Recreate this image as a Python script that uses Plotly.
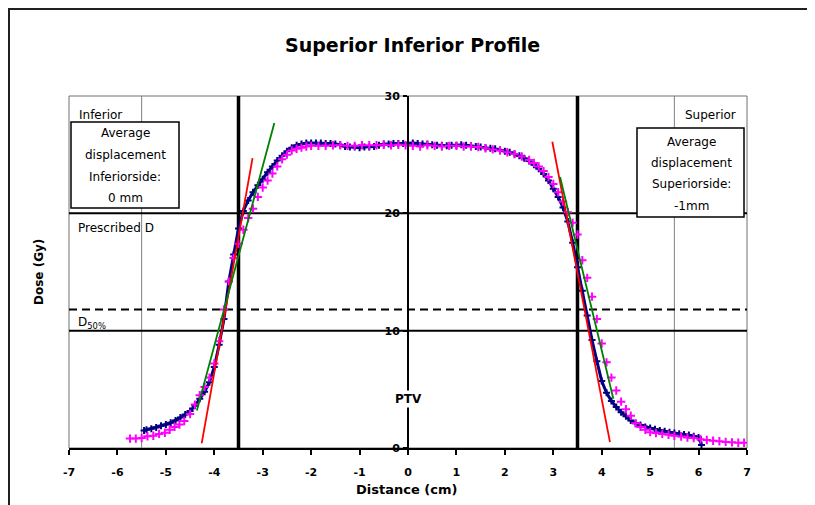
import plotly.graph_objects as go

# ---------------- data ----------------
navy_x = [-5.45, -5.4, -5.3, -5.2, -5.1, -5.0, -4.9, -4.8, -4.7, -4.6, -4.5, -4.4, -4.3, -4.2,
          -4.1, -4.0, -3.9, -3.8, -3.7, -3.6, -3.5, -3.4, -3.3, -3.2, -3.1, -3.0, -2.9, -2.8,
          -2.7, -2.6, -2.5, -2.4, -2.3, -2.2, -2.1, -2.0, -1.9, -1.8, -1.7, -1.6, -1.5, -1.4,
          -1.3, -1.2, -1.1, -1.0, -0.9, -0.8, -0.7, -0.6, -0.5, -0.4, -0.3, -0.2, -0.1, 0.0,
          0.1, 0.2, 0.3, 0.4, 0.5, 0.6, 0.7, 0.8, 0.9, 1.0, 1.1, 1.2, 1.3, 1.4, 1.5, 1.6,
          1.7, 1.8, 1.9, 2.0, 2.1, 2.2, 2.3, 2.4, 2.5, 2.6, 2.7, 2.8, 2.9, 3.0, 3.1, 3.2,
          3.3, 3.4, 3.5, 3.6, 3.7, 3.8, 3.9, 4.0, 4.1, 4.2, 4.3, 4.4, 4.5, 4.6, 4.7, 4.8,
          4.9, 5.0, 5.1, 5.2, 5.3, 5.4, 5.5, 5.6, 5.7, 5.8, 5.9, 6.0, 6.06]
navy_y = [1.5, 1.55, 1.65, 1.75, 1.9, 2.0, 2.15, 2.35, 2.6, 2.85, 3.15, 3.6, 4.2, 4.8,
          5.6, 6.9, 8.8, 11.0, 14.2, 16.5, 18.7, 20.2, 21.1, 21.8, 22.4, 22.9, 23.5, 24.0,
          24.5, 24.9, 25.3, 25.6, 25.8, 25.9, 26.0, 26.0, 26.0, 26.0, 25.95, 25.95, 25.9, 25.85,
          25.7, 25.65, 25.65, 25.6, 25.65, 25.65, 25.7, 25.8, 25.9, 25.9, 25.95, 25.95, 25.95, 26.0,
          26.0, 25.95, 25.9, 25.9, 25.85, 25.8, 25.8, 25.75, 25.8, 25.8, 25.85, 25.8, 25.75, 25.7, 25.65, 25.6,
          25.55, 25.5, 25.4, 25.3, 25.2, 25.05, 24.9, 24.7, 24.45, 24.15, 23.8, 23.35, 22.8, 22.1, 21.4, 20.5,
          19.3, 17.5, 15.4, 13.4, 11.3, 9.2, 7.4, 5.7, 4.7, 4.0, 3.5, 3.05, 2.7, 2.35, 2.1, 1.95,
          1.8, 1.7, 1.6, 1.5, 1.42, 1.35, 1.28, 1.22, 1.15, 1.1, 1.0, 0.9, 0.25]

mag_x = [-5.74, -5.62, -5.5, -5.38, -5.26, -5.14, -5.02, -4.92, -4.82, -4.72, -4.62, -4.5, -4.4,
         -4.3, -4.2, -4.1, -4.0, -3.9, -3.8, -3.7, -3.6, -3.5, -3.4, -3.3, -3.2, -3.1, -3.0,
         -2.9, -2.8, -2.7, -2.6, -2.5, -2.4, -2.3, -2.2, -2.1, -2.0, -1.85, -1.7, -1.55, -1.4,
         -1.25, -1.1, -0.95, -0.8, -0.65, -0.5, -0.35, -0.2, -0.05, 0.1, 0.25, 0.4, 0.55, 0.7,
         0.85, 1.0, 1.15, 1.3, 1.45, 1.6, 1.75, 1.9, 2.05, 2.2, 2.35, 2.5, 2.6, 2.7, 2.8, 2.9,
         3.0, 3.1, 3.2, 3.3, 3.4, 3.5, 3.6, 3.7, 3.8, 3.9, 4.0, 4.1, 4.2, 4.3, 4.4, 4.5, 4.6,
         4.7, 4.8, 4.9, 5.0, 5.12, 5.25, 5.38, 5.5, 5.64, 5.77, 5.9, 6.04, 6.17, 6.3, 6.43,
         6.56, 6.69, 6.82, 6.94]
mag_y = [0.8, 0.8, 0.85, 1.0, 1.05, 1.2, 1.3, 1.55, 1.8, 2.0, 2.3, 2.9, 3.7,
         4.5, 5.2, 6.0, 7.2, 9.1, 11.8, 14.2, 16.2, 17.4, 18.6, 19.6, 20.4, 21.4, 22.2,
         22.8, 23.4, 24.0, 24.6, 25.0, 25.35, 25.5, 25.6, 25.7, 25.75, 25.75, 25.75, 25.8, 25.8,
         25.75, 25.75, 25.8, 25.8, 25.8, 25.85, 25.8, 25.85, 25.8, 25.75, 25.7, 25.8, 25.75, 25.7,
         25.75, 25.75, 25.7, 25.7, 25.65, 25.55, 25.45, 25.35, 25.2, 25.05, 24.85, 24.55, 24.3, 24.0, 23.6, 23.1,
         22.5, 21.8, 21.0, 20.1, 19.2, 18.2, 16.0, 14.5, 12.9, 11.0, 8.9, 7.3, 6.0, 4.9, 3.95, 3.3, 2.75,
         2.1, 1.8, 1.55, 1.35, 1.28, 1.2, 1.12, 1.05, 0.98, 0.9, 0.85, 0.75, 0.68, 0.62, 0.58,
         0.52, 0.48, 0.45, 0.45]

red_left_x, red_left_y = [-4.26, -3.21], [0.4, 24.7]
green_left_x, green_left_y = [-4.36, -2.76], [3.2, 27.7]
red_right_x, red_right_y = [2.98, 4.17], [26.1, 0.5]
green_right_x, green_right_y = [3.14, 4.24], [23.1, 4.2]

prescribed_dose = 20
d50_dose = 10
dashed_dose = 11.8
field_edges = [-3.5, 3.5]
grey_x = [-5.5, 5.5]
x_ticks = list(range(-7, 8))
y_ticks = [0, 10, 20, 30]

# ---------------- geometry helpers (window pixels) ----------------
OFF = 8                      # page body margin
WIN_W, WIN_H = 815, 505
PLOT_L, PLOT_R, PLOT_T, PLOT_B = 69, 747, 96, 448   # plot area in window pixels
W, H = WIN_W - OFF, WIN_H - OFF
L, T = PLOT_L - OFF, PLOT_T - OFF
PW, PH = PLOT_R - PLOT_L, PLOT_B - PLOT_T
R, B = W - L - PW, H - T - PH


def px(xw):
    return (xw - PLOT_L) / PW


def py(yw):
    return (PLOT_B - yw) / PH


FONT = "DejaVu Sans"

fig = go.Figure()

fig.add_trace(go.Scatter(x=navy_x, y=navy_y, mode="lines+markers",
                         line=dict(color="#000080", width=3),
                         marker=dict(symbol="cross-thin", size=5, color="#000080",
                                     line=dict(color="#000080", width=2)),
                         showlegend=False, hoverinfo="skip"))
fig.add_trace(go.Scatter(x=mag_x, y=mag_y, mode="markers",
                         marker=dict(symbol="cross-thin", size=6, color="#FF00FF",
                                     line=dict(color="#FF00FF", width=2)),
                         showlegend=False, hoverinfo="skip"))
for xs, ys, c in [(red_left_x, red_left_y, "#FF0000"), (green_left_x, green_left_y, "#008000"),
                  (red_right_x, red_right_y, "#FF0000"), (green_right_x, green_right_y, "#008000")]:
    fig.add_trace(go.Scatter(x=xs, y=ys, mode="lines", line=dict(color=c, width=1.8),
                             showlegend=False, hoverinfo="skip"))

shapes = []
shapes.append(dict(type="rect", xref="x domain", yref="y domain", x0=0, x1=1, y0=0, y1=1,
                   line=dict(color="#707070", width=1), layer="below"))
for gx in grey_x:
    shapes.append(dict(type="line", xref="x", yref="y domain", x0=gx, x1=gx, y0=0, y1=1,
                       line=dict(color="#808080", width=1), layer="below"))
for hy in [prescribed_dose, d50_dose]:
    shapes.append(dict(type="line", xref="x domain", yref="y", x0=0, x1=1, y0=hy, y1=hy,
                       line=dict(color="black", width=2), layer="below"))
shapes.append(dict(type="line", xref="x domain", yref="y", x0=0, x1=1, y0=dashed_dose, y1=dashed_dose,
                   line=dict(color="black", width=2, dash="8px,5px"), layer="below"))
for fx in field_edges:
    shapes.append(dict(type="line", xref="x", yref="y domain", x0=fx, x1=fx, y0=0, y1=1,
                       line=dict(color="black", width=3.5), layer="below"))
shapes.append(dict(type="rect", xref="paper", yref="paper", x0=px(71), x1=px(179), y0=py(208), y1=py(122),
                   line=dict(color="black", width=1.5), fillcolor="white", layer="above"))
shapes.append(dict(type="rect", xref="paper", yref="paper", x0=px(637), x1=px(744), y0=py(217), y1=py(128),
                   line=dict(color="black", width=1.5), fillcolor="white", layer="above"))
# chart-area border (top and left edges of the chart object)
shapes.append(dict(type="line", xref="paper", yref="paper", x0=px(8), x1=px(815), y0=py(9), y1=py(9),
                   line=dict(color="#202020", width=2)))
shapes.append(dict(type="line", xref="paper", yref="paper", x0=px(9), x1=px(9), y0=py(8), y1=py(505),
                   line=dict(color="#202020", width=2)))

ann = []


def text(t, x, y, size=12, bold=False, xanchor="center", bg=None, angle=0):
    d = dict(text=f"<b>{t}</b>" if bold else t, xref="paper", yref="paper", x=px(x), y=py(y),
             xanchor=xanchor, yanchor="middle", showarrow=False, textangle=angle,
             font=dict(family=FONT, size=size, color="black"))
    if bg:
        d["bgcolor"] = bg
    ann.append(d)


text("Superior Inferior Profile", 412, 45, size=19, bold=True)
text("Dose (Gy)", 39, 272, size=12, bold=True, angle=-90)
text("Distance (cm)", 406, 489, size=13, bold=True)
text("PTV", 408, 399, size=12, bold=True, bg="white")
text("Inferior", 77, 115, size=12, xanchor="left")
text("Superior", 738, 115, size=12, xanchor="right")
text("Prescribed D", 76, 228, size=12, xanchor="left")
text("D<sub>50%</sub>", 76, 323, size=12, xanchor="left")
for t, y in zip(["Average", "displacement", "Inferiorside:", "0 mm"], [133, 155, 177, 198]):
    text(t, 125, y, size=12)
for t, y in zip(["Average", "displacement", "Superiorside:", "-1mm"], [142, 163, 184, 206]):
    text(t, 691, y, size=12)

fig.update_layout(
    width=W, height=H, margin=dict(l=L, r=R, t=T, b=B, autoexpand=False),
    paper_bgcolor="white", plot_bgcolor="white",
    shapes=shapes, annotations=ann, showlegend=False,
    xaxis=dict(range=[-7, 7], tickvals=x_ticks, ticktext=[str(v) for v in x_ticks],
               showgrid=False, zeroline=False, showline=True, linecolor="black", linewidth=1.5,
               ticks="outside", ticklen=5, tickwidth=1.5, tickcolor="black",
               tickfont=dict(family=FONT, size=11, color="black", weight="bold"),
               ticklabelstandoff=8, fixedrange=True),
    yaxis=dict(range=[0, 30], tickvals=y_ticks, anchor="free", position=0.5,
               showgrid=False, zeroline=False, showline=True, linecolor="black", linewidth=2,
               ticks="outside", ticklen=4, tickwidth=1.5, tickcolor="black",
               tickfont=dict(family=FONT, size=11, color="black", weight="bold"),
               ticklabelstandoff=1, fixedrange=True),
)

fig.write_html("out.html")
